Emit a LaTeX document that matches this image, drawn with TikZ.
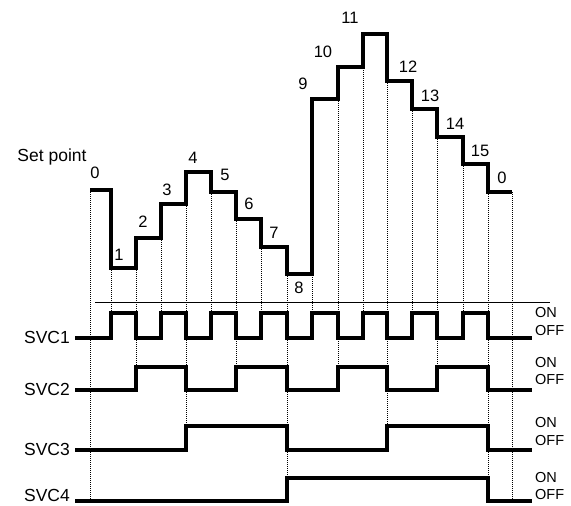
\documentclass[tikz,border=0pt]{standalone}
\usepackage{fontspec}
\setmainfont{Liberation Sans}
\begin{document}
\begin{tikzpicture}[x=1pt,y=-1pt,
  sig/.style={line width=3.3pt,line join=miter},
  guide/.style={line width=0.8pt,dash pattern=on 1pt off 1pt},
  num/.style={inner sep=0pt,font=\fontsize{16.5}{18}\selectfont},
  lbl/.style={inner sep=0pt,font=\fontsize{17.5}{20}\selectfont},
  onoff/.style={inner sep=0pt,anchor=west,font=\fontsize{14.5}{16}\selectfont}]
\useasboundingbox (0,0) rectangle (571,506);
% guide lines
\foreach \x/\a/\b in {90/190/502,111/268/313,136/238/367,161/204/313,186/172/426,
  211/192/313,236/219/367,261/247/313,287/274/478,312/99/313,338/67/367,363/34/313,
  387/81/426,412/109/313,437/137/367,463/164/313,488/192/478,512/192/502}
  \draw[guide] (\x,\a) -- (\x,\b);
% separator
\draw[line width=0.8pt] (95,302) -- (550,302);
% set point
\draw[sig] (90,190) -| (111,268) -| (136,238) -| (161,204) -| (186,172) -| (211,192)
  -| (236,219) -| (261,247) -| (287,274) -| (312,99) -| (338,67) -| (363,34)
  -| (387,81) -| (412,109) -| (437,137) -| (463,164) -| (488,192) -- (512,192);
% signals
\draw[sig] (75,338) -| (111,313) -| (136,338) -| (161,313) -| (186,338) -| (211,313)
  -| (236,338) -| (261,313) -| (287,338) -| (312,313) -| (338,338) -| (363,313)
  -| (387,338) -| (412,313) -| (437,338) -| (463,313) -| (488,338) -- (532,338);
\draw[sig] (75,390) -| (136,367) -| (186,390) -| (236,367) -| (287,390) -| (338,367)
  -| (387,390) -| (437,367) -| (488,390) -- (532,390);
\draw[sig] (75,450) -| (186,426) -| (287,450) -| (387,426) -| (488,450) -- (532,450);
\draw[sig] (75,501) -| (287,478) -| (488,501) -- (532,501);
% labels
\node[lbl] (sp) at (52,157) {Set point};
\node[lbl,anchor=east] (s1) at (70,337) {SVC1};
\node[lbl,anchor=east] (s2) at (70,389) {SVC2};
\node[lbl,anchor=east] (s3) at (70,449) {SVC3};
\node[lbl,anchor=east] (s4) at (70,495) {SVC4};
\foreach \n/\x/\y/\t in {a/95/173/0,b/119/255/1,c/143/222/2,d/167/190/3,e/193/158/4,
  f/225/175/5,g/249/204/6,h/274/233/7,i/299/288/8,j/303/84/9,k/323/52/10,l/350/18/11,
  m/408/67/12,n/430/96/13,o/455/124/14,p/480/151/15,q/502/178/0}
  \node[num] (n\n) at (\x,\y) {\t};
\foreach \i/\on/\off in {1/313/331,2/363/380,3/423/441,4/478/495}{
  \node[onoff] (on\i) at (535,\on) {ON};
  \node[onoff] (off\i) at (535,\off) {OFF};
}
\end{tikzpicture}
\end{document}
